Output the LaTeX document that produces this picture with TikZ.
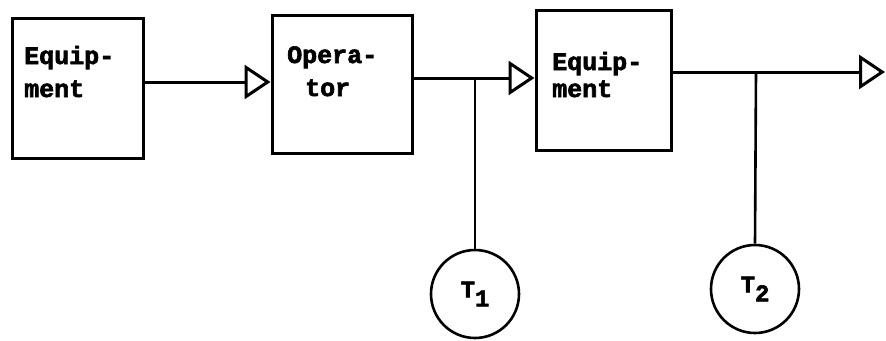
\documentclass[tikz,border=0pt]{standalone}
\usepackage{fontspec}
\setmonofont[BoldFeatures={FakeBold=2.5}]{Liberation Mono}
\usetikzlibrary{arrows.meta}
\tikzset{
  blockbox/.style={draw, line width=3pt, rectangle, inner sep=0pt},
  blocktext/.style={anchor=base west, inner sep=0pt, font=\ttfamily\bfseries\fontsize{25}{33}\selectfont},
  flow/.style={line width=3pt, -{Triangle[open, length=26pt, width=34pt, line width=3pt]}},
  tap/.style={line width=2.6pt},
  timer/.style={draw, circle, line width=2.6pt, minimum size=88pt, inner sep=0pt,
    font=\ttfamily\bfseries\fontsize{24}{24}\selectfont},
}
\newcommand{\tsub}[1]{T\raisebox{-9pt}{#1}}
\begin{document}
\begin{tikzpicture}[x=1pt, y=-1pt]
  \useasboundingbox (0,0) rectangle (886,340);
  % blocks
  \node[blockbox, minimum width=131pt, minimum height=140pt] (eq1) at (78,88) {};
  \node[blockbox, minimum width=140pt, minimum height=138pt] (op) at (342,84) {};
  \node[blockbox, minimum width=135pt, minimum height=140pt] (eq2) at (603.5,80) {};
  % block labels
  \node[blocktext] (eq1a) at (24,64) {Equip-};
  \node[blocktext] (eq1b) at (24,97) {ment};
  \node[blocktext] (opa) at (287,63) {Opera-};
  \node[blocktext] (opb) at (305,96) {tor};
  \node[blocktext] (eq2a) at (552,70) {Equip-};
  \node[blocktext] (eq2b) at (552,97) {ment};
  % measuring points
  \node[timer] (t1) at (475,294) {\tsub{1}};
  \node[timer] (t2) at (755,289) {\tsub{2}};
  \coordinate (b1) at (475,78);
  \coordinate (b2) at (756,72);
  \coordinate (out) at (885,72);
  % signal flow
  \draw[flow] (eq1.east |- 0,82) -- (op.west |- 0,82);
  \draw[flow] (op.east |- 0,78) -- (eq2.west |- 0,78);
  \draw[flow] (eq2.east |- 0,72) -- (out);
  % taps
  \draw[tap] (b1) -- (t1.north);
  \draw[tap] (b2) -- (t2.north);
\end{tikzpicture}
\end{document}
